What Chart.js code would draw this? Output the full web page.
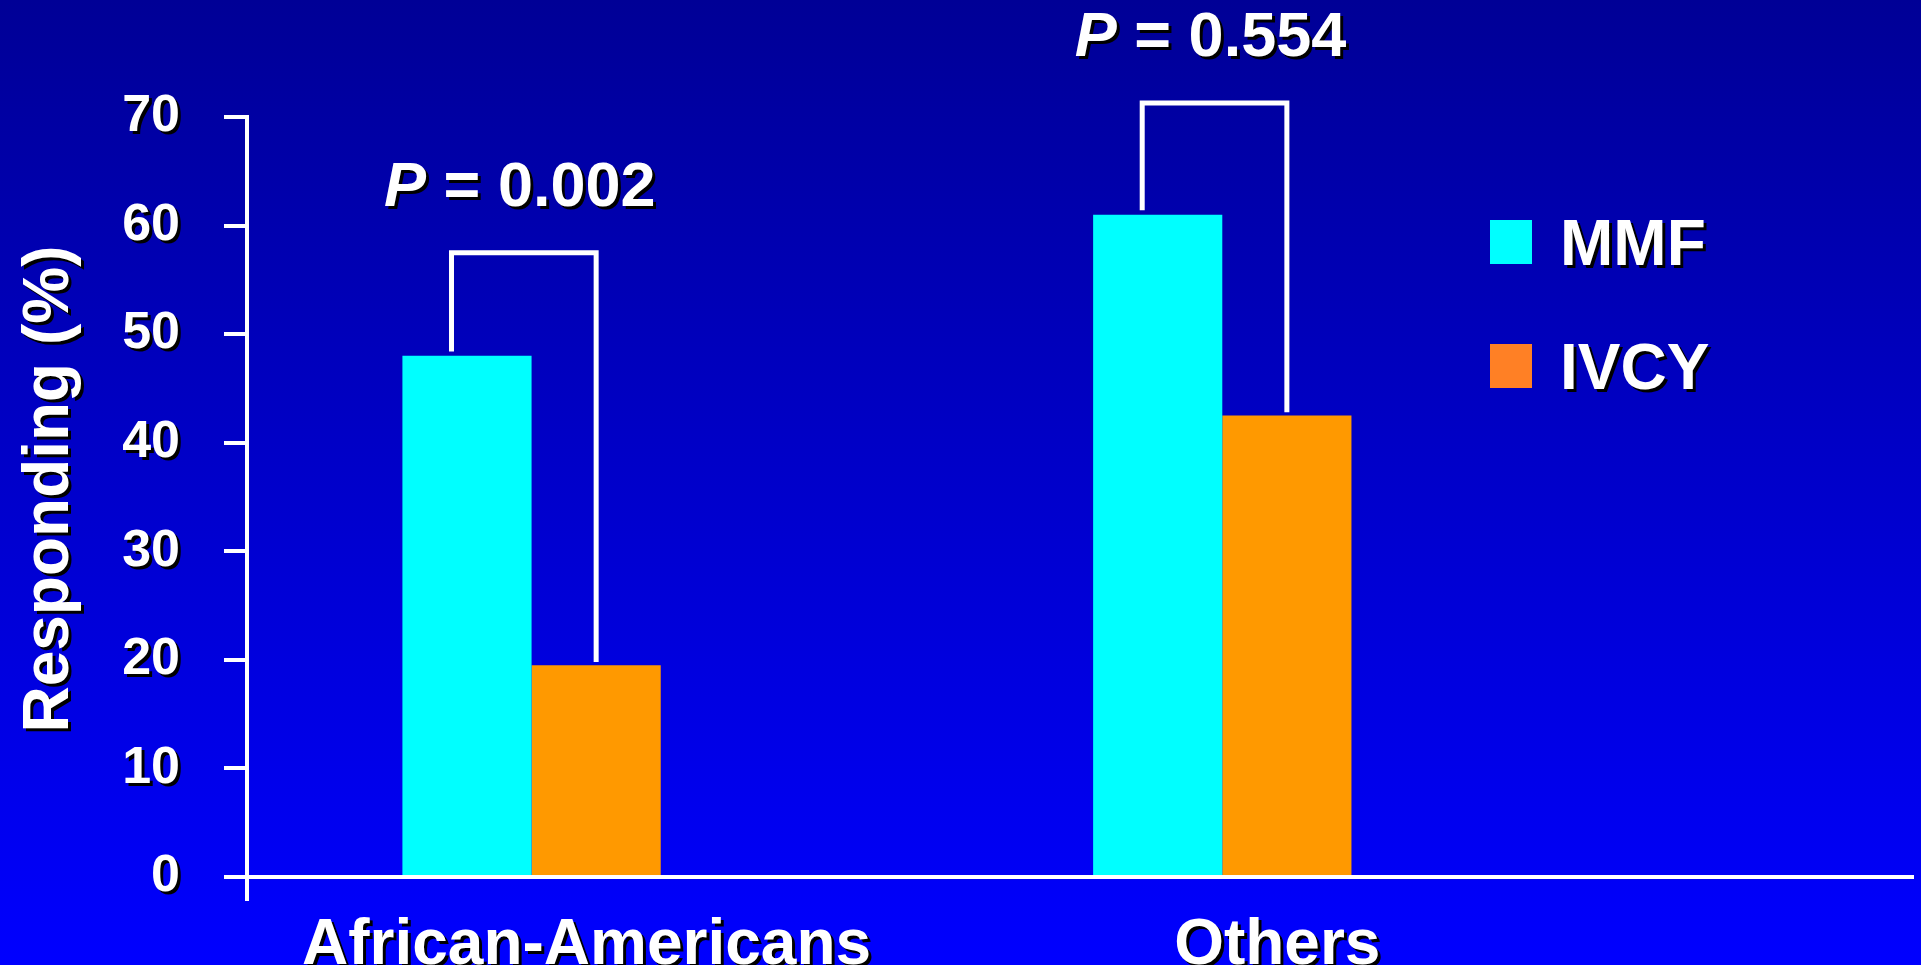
<!DOCTYPE html>
<html>
<head>
<meta charset="utf-8">
<script src="https://cdn.jsdelivr.net/npm/chart.js@4.4.0/dist/chart.umd.min.js"></script>
<style>
  html, body { margin: 0; padding: 0; width: 100%; height: 100%; overflow: hidden; }
  body { background: linear-gradient(to bottom, #000096 0%, #0000ff 100%); }
  #wrap { position: absolute; left: 0; top: 0; width: 1921px; height: 965px; }
</style>
</head>
<body>
<div id="wrap"><canvas id="respChart"></canvas></div>
<script>
// data
var categories = ['African-Americans', 'Others'];
var seriesNames = ['MMF', 'IVCY'];
var mmfValues = [48, 61];
var ivcyValues = [19.5, 42.5];
var yTicks = [0, 10, 20, 30, 40, 50, 60, 70];
var pLabels = ['0.002', '0.554'];
var bracketLevels = [57.5, 71.3];
var yTitle = 'Responding (%)';

document.addEventListener('DOMContentLoaded', function(){
  var FONT = '"Liberation Sans", Arial, sans-serif';
  var barColors = ['#00ffff', '#ff9900'];
  var swatchColors = ['#00ffff', '#ff8025'];

  function shadowOn(ctx){
    ctx.shadowColor = '#000';
    ctx.shadowOffsetX = 3;
    ctx.shadowOffsetY = 3;
    ctx.shadowBlur = 0;
  }
  function shadowOff(ctx){
    ctx.shadowColor = 'rgba(0,0,0,0)';
    ctx.shadowOffsetX = 0;
    ctx.shadowOffsetY = 0;
  }

  // text shadow for tick labels (they are drawn after the bars, z:1)
  var shadowPlugin = {
    id: 'shadowTicks',
    afterDatasetsDraw: function(chart){ shadowOn(chart.ctx); },
    afterDraw: function(chart){ shadowOff(chart.ctx); }
  };

  // brackets, p values, y title, legend
  var extrasPlugin = {
    id: 'extras',
    afterDraw: function(chart){
      var ctx = chart.ctx;
      var area = chart.chartArea;
      var y = chart.scales.y;
      var m0 = chart.getDatasetMeta(0).data;
      var m1 = chart.getDatasetMeta(1).data;
      ctx.save();
      shadowOff(ctx);

      // y axis stub below the x axis
      ctx.strokeStyle = '#ffffff';
      ctx.lineWidth = 4;
      ctx.beginPath();
      ctx.moveTo(area.left, area.bottom);
      ctx.lineTo(area.left, area.bottom + 24);
      ctx.stroke();

      // brackets
      ctx.lineWidth = 5;
      ctx.lineCap = 'butt';
      for (var i = 0; i < categories.length; i++) {
        var xl = m0[i].x - m0[i].width * 0.12;
        var xr = m1[i].x;
        var yt = y.getPixelForValue(bracketLevels[i]);
        var yl = y.getPixelForValue(mmfValues[i] + 0.4);
        var yr = y.getPixelForValue(ivcyValues[i] + 0.3);
        ctx.beginPath();
        ctx.moveTo(xl, yl);
        ctx.lineTo(xl, yt);
        ctx.lineTo(xr, yt);
        ctx.lineTo(xr, yr);
        ctx.stroke();

        // P = value
        shadowOn(ctx);
        ctx.fillStyle = '#ffffff';
        ctx.textBaseline = 'alphabetic';
        ctx.textAlign = 'left';
        var fP = 'italic bold 63px ' + FONT;
        var fR = 'bold 63px ' + FONT;
        var rest = ' = ' + pLabels[i];
        ctx.font = fP; var wP = ctx.measureText('P').width;
        ctx.font = fR; var wR = ctx.measureText(rest).width;
        var cx = (xl + xr) / 2 - 4;
        var sx = cx - (wP + wR) / 2;
        var by = yt - 47;
        ctx.font = fP; ctx.fillText('P', sx, by);
        ctx.font = fR; ctx.fillText(rest, sx + wP, by);
        shadowOff(ctx);
      }

      // y title
      shadowOn(ctx);
      ctx.fillStyle = '#ffffff';
      ctx.font = 'bold 64px ' + FONT;
      ctx.textAlign = 'center';
      ctx.textBaseline = 'alphabetic';
      ctx.save();
      ctx.translate(68, (area.top + area.bottom) / 2 - 8);
      ctx.rotate(-Math.PI / 2);
      ctx.fillText(yTitle, 0, 0);
      ctx.restore();
      shadowOff(ctx);

      // legend
      for (var k = 0; k < seriesNames.length; k++) {
        var top = 220 + k * 124;
        ctx.fillStyle = swatchColors[k];
        ctx.fillRect(1490, top, 42, 44);
        shadowOn(ctx);
        ctx.fillStyle = '#ffffff';
        ctx.font = 'bold 64px ' + FONT;
        ctx.textAlign = 'left';
        ctx.textBaseline = 'alphabetic';
        ctx.fillText(seriesNames[k], 1560, top + 45);
        shadowOff(ctx);
      }
      ctx.restore();
    }
  };

  var ctx = document.getElementById('respChart');
  new Chart(ctx, {
    type: 'bar',
    data: {
      datasets: [
        { label: seriesNames[0], data: mmfValues.map(function(v, i){ return { x: i + 1, y: v }; }), backgroundColor: barColors[0], borderWidth: 0 },
        { label: seriesNames[1], data: ivcyValues.map(function(v, i){ return { x: i + 1, y: v }; }), backgroundColor: barColors[1], borderWidth: 0 }
      ]
    },
    options: {
      responsive: true,
      maintainAspectRatio: false,
      animation: false,
      events: [],
      layout: { padding: { top: 117, right: 8, left: 0, bottom: 0 } },
      barPercentage: 1,
      categoryPercentage: 0.374,
      plugins: { legend: { display: false }, tooltip: { enabled: false } },
      scales: {
        x: {
          type: 'linear',
          offset: false,
          min: 0.588,
          max: 3.0,
          afterBuildTicks: function(s){ s.ticks = categories.map(function(c, i){ return { value: i + 1 }; }); },
          afterFit: function(s){ s.height = 88; },
          grid: { display: false, offset: false },
          border: { color: '#ffffff', width: 4 },
          ticks: {
            z: 1,
            autoSkip: false,
            maxRotation: 0,
            padding: 29,
            labelOffset: 55,
            color: '#ffffff',
            font: { family: FONT, size: 64, weight: 'bold', lineHeight: 1 },
            callback: function(v){ return categories[v - 1] || ''; }
          }
        },
        y: {
          min: 0,
          max: 70,
          afterBuildTicks: function(s){ s.ticks = yTicks.map(function(v){ return { value: v }; }); },
          afterFit: function(s){ s.width = 247; },
          grid: { drawOnChartArea: false, drawTicks: true, tickLength: 23, color: '#ffffff', lineWidth: 4 },
          border: { color: '#ffffff', width: 4 },
          ticks: {
            z: 1,
            padding: 44,
            color: '#ffffff',
            font: { family: FONT, size: 52, weight: 'bold', lineHeight: 1 }
          }
        }
      }
    },
    plugins: [shadowPlugin, extrasPlugin]
  });
});
</script>
</body>
</html>
